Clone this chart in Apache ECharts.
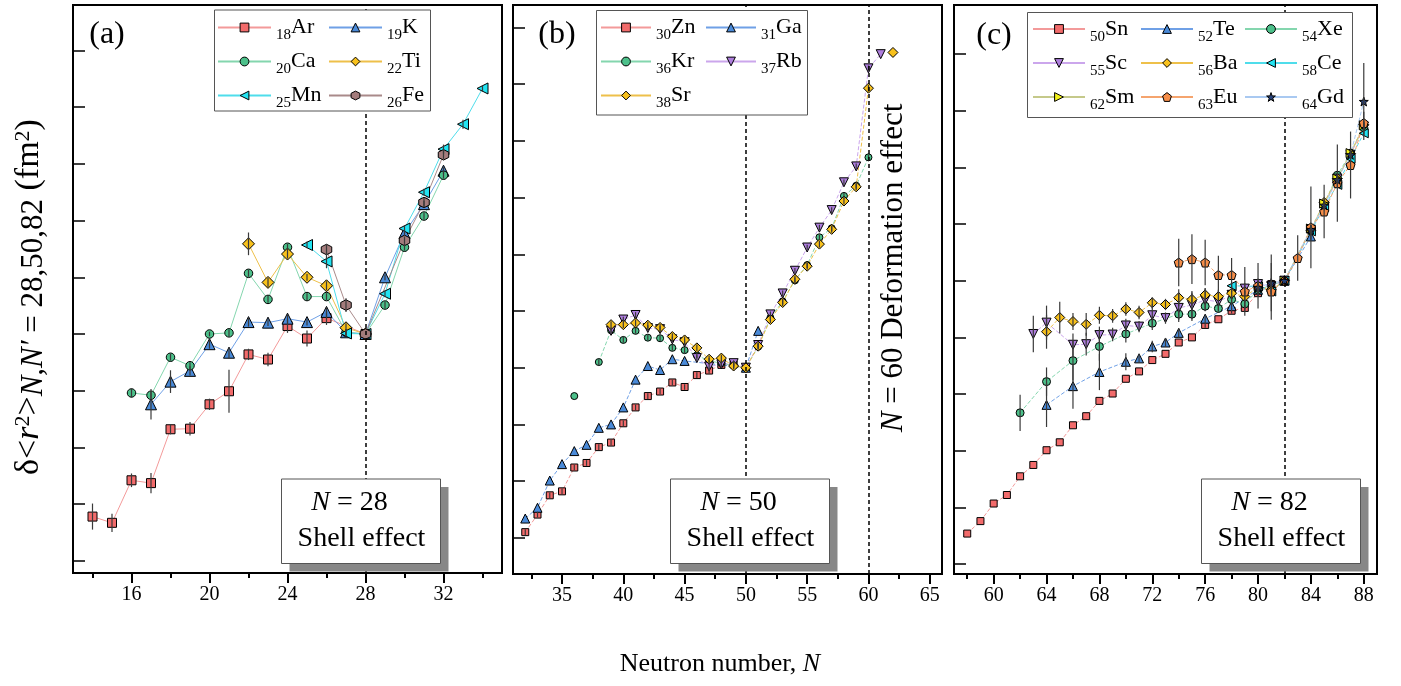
<!DOCTYPE html>
<html><head><meta charset="utf-8">
<script src="https://cdn.jsdelivr.net/npm/echarts@6/dist/echarts.min.js"></script>
<style>html,body{margin:0;padding:0;background:#fff}#c{width:1401px;height:686px}</style>
</head><body><div id="c"></div>
<script>
// ---- data: [N, delta<r^2> (fm^2, relative to N' = 28/50/82), error] ----
// panel (a)
const Ar = [[14,-0.322,0.023],[15,-0.333,0.016],[16,-0.258,0.012],[17,-0.263,0.018],[18,-0.168,0.009],[19,-0.167,0.012],[20,-0.124,0.01],[21,-0.101,0.038],[22,-0.036,0.01],[23,-0.045,0.012],[24,0.014,0.012],[25,-0.008,0.014],[26,0.028,0.012],[28,0,0]];
const K  = [[17,-0.124,0.027],[18,-0.084,0.02],[19,-0.065,0.008],[20,-0.018,0.008],[21,-0.033,0.01],[22,0.021,0.008],[23,0.020,0.006],[24,0.027,0.008],[25,0.021,0.006],[26,0.039,0.008],[27,0.003,0.006],[28,0,0],[29,0.100,0.005],[30,0.178,0.006],[31,0.229,0.006],[32,0.288,0.006]];
const Ca = [[16,-0.104,0.008],[17,-0.108,0.006],[18,-0.041,0.006],[19,-0.056,0.006],[20,0.000,0.004],[21,0.002,0.006],[22,0.107,0.006],[23,0.061,0.006],[24,0.153,0.006],[25,0.066,0.006],[26,0.066,0.006],[27,0.003,0.006],[28,0,0],[29,0.051,0.006],[30,0.153,0.006],[31,0.208,0.006],[32,0.280,0.006]];
const Ti = [[22,0.159,0.02],[23,0.091,0.008],[24,0.141,0.008],[25,0.100,0.006],[26,0.085,0.008],[27,0.011,0.008],[28,0,0]];
const Mn = [[25,0.157,0.006],[26,0.128,0.012],[27,0.001,0.006],[28,0,0],[29,0.071,0.006],[30,0.186,0.006],[31,0.250,0.006],[32,0.326,0.008],[33,0.370,0.008],[34,0.433,0.006]];
const Fe = [[26,0.149,0.008],[27,0.051,0.012],[28,0,0],[30,0.165,0.006],[31,0.232,0.008],[32,0.316,0.008]];
// panel (b)
const Zn = [[32,-0.290,0.005],[33,-0.259,0.005],[34,-0.225,0.005],[35,-0.218,0.005],[36,-0.176,0.005],[37,-0.168,0.005],[38,-0.140,0.005],[39,-0.132,0.005],[40,-0.098,0.005],[41,-0.070,0.005],[42,-0.050,0.005],[43,-0.042,0.005],[44,-0.026,0.005],[45,-0.034,0.005],[46,-0.013,0.005],[47,-0.005,0.005],[48,0.005,0.005],[49,0.006,0.005],[50,0,0]];
const Ga = [[32,-0.266,0],[33,-0.247,0],[34,-0.199,0],[35,-0.170,0],[36,-0.147,0],[37,-0.136,0],[38,-0.106,0],[39,-0.100,0],[40,-0.070,0],[41,-0.021,0],[42,0.003,0],[43,-0.004,0],[44,0.015,0],[45,0.012,0],[50,0,0],[51,0.065,0]];
const Kr = [[36,-0.050,0],[37,null,0],[38,0.010,0.005],[39,0.066,0.005],[40,0.049,0.005],[41,0.065,0.005],[42,0.053,0.005],[43,0.052,0.005],[44,0.035,0.005],[45,0.031,0.005],[46,0.022,0.005],[47,0.012,0.005],[48,0.008,0.005],[49,0.004,0.005],[50,0,0],[51,0.037,0.005],[52,0.088,0.005],[53,0.117,0.005],[54,0.154,0.005],[55,0.181,0.005],[56,0.230,0.005],[57,0.246,0.005],[58,0.303,0.005],[59,0.321,0.005],[60,0.371,0.005]];
const Rb = [[39,0.065,0.005],[40,0.085,0.005],[41,0.093,0.005],[42,0.070,0.005],[43,0.068,0.005],[44,0.050,0.005],[45,0.045,0.005],[46,0.017,0.005],[47,0.002,0.005],[48,0.006,0.005],[49,0.008,0.005],[50,0,0],[51,0.040,0.005],[52,0.094,0.005],[53,0.131,0.005],[54,0.171,0.005],[55,0.212,0.005],[56,0.247,0.005],[57,0.278,0.005],[58,0.327,0.005],[59,0.355,0.005],[60,0.528,0.005],[61,0.553,0]];
const Sr = [[39,0.076,0.006],[40,0.076,0.006],[41,0.079,0.006],[42,0.075,0.006],[43,0.071,0.006],[44,0.055,0.006],[45,0.049,0.006],[46,0.035,0.006],[47,0.015,0.006],[48,0.017,0.006],[49,0.003,0.006],[50,0,0],[51,0.038,0.006],[52,0.085,0.006],[53,0.115,0.006],[54,0.156,0.006],[55,0.179,0.006],[56,0.218,0.006],[57,0.244,0.006],[58,0.294,0.006],[59,0.319,0.006],[60,0.493,0.006],[61,null,0],[62,0.556,0]];
// panel (c)
const Sn = [[58,-0.446,0],[59,-0.424,0],[60,-0.393,0],[61,-0.378,0],[62,-0.345,0],[63,-0.325,0],[64,-0.299,0],[65,-0.285,0],[66,-0.255,0],[67,-0.239,0],[68,-0.212,0],[69,-0.199,0],[70,-0.173,0],[71,-0.160,0],[72,-0.140,0],[73,-0.129,0],[74,-0.109,0],[75,-0.100,0],[76,-0.078,0.005],[77,-0.068,0],[78,-0.053,0.005],[79,-0.048,0.005],[80,-0.022,0.006],[81,-0.006,0.006],[82,0,0]];
const Te = [[64,-0.219,0.039],[66,-0.186,0.04],[68,-0.161,0.032],[70,-0.143,0.015],[71,-0.137,0.008],[72,-0.116,0.01],[73,-0.109,0.008],[74,-0.092,0.008],[76,-0.067,0.006],[78,-0.045,0.006],[80,-0.016,0.006],[82,0,0],[84,0.078,0.006]];
const Xe = [[62,-0.233,0.032],[64,-0.178,0.025],[66,-0.141,0.035],[68,-0.116,0.025],[70,-0.094,0.015],[72,-0.075,0.012],[74,-0.059,0.01],[75,-0.059,0.012],[76,-0.045,0.008],[77,-0.049,0.006],[78,-0.033,0.008],[79,-0.041,0.008],[80,-0.016,0.006],[82,0,0],[84,0.088,0.006],[85,0.135,0.006],[86,0.186,0.006],[87,0.225,0.006],[88,0.270,0.006]];
const Sc = [[63,-0.094,0.032],[64,-0.074,0.03],[66,-0.113,0.02],[67,-0.112,0.02],[68,-0.096,0.015],[69,-0.095,0.012],[70,-0.079,0.012],[71,-0.081,0.01],[72,-0.061,0.02],[73,-0.066,0.01],[74,-0.048,0.025],[75,-0.043,0.025],[76,-0.034,0.02],[77,-0.037,0.015],[78,-0.025,0.015],[79,-0.014,0.01],[80,-0.006,0.01],[81,-0.010,0.01],[82,0,0],[84,0.090,0.006],[85,0.132,0.006],[86,0.180,0.006],[87,0.222,0.006],[88,0.272,0.006]];
const Ba = [[64,-0.090,0.03],[65,-0.065,0.028],[66,-0.072,0.015],[67,-0.077,0.02],[68,-0.061,0.015],[69,-0.062,0.012],[70,-0.050,0.012],[71,-0.056,0.012],[72,-0.039,0.01],[73,-0.042,0.01],[74,-0.030,0.015],[75,-0.033,0.012],[76,-0.025,0.012],[77,-0.028,0.012],[78,-0.022,0.01],[79,-0.028,0.01],[80,-0.012,0.008],[81,-0.016,0.008],[82,0,0],[84,0.089,0.006],[85,0.138,0.006],[86,0.180,0.006],[87,0.224,0.006],[88,0.275,0.006]];
const Ce = [[78,-0.009,0.006],[80,-0.010,0.006],[81,-0.019,0.006],[82,0,0],[84,0.087,0.006],[85,0.130,0.006],[86,0.169,0.006],[87,0.215,0.006],[88,0.260,0.006]];
const Sm = [[82,0,0],[84,0.092,0.006],[85,0.136,0.006],[86,0.180,0.006],[87,0.225,0.006],[88,0.274,0.006]];
const Eu = [[74,0.032,0.042],[75,0.038,0.044],[76,0.032,0.04],[77,0.010,0.034],[78,0.010,0.03],[79,-0.019,0.043],[80,-0.009,0.04],[81,-0.019,0.05],[82,0,0],[83,0.040,0.04],[84,0.094,0.072],[85,0.122,0.047],[86,0.172,0.068],[87,0.204,0.059],[88,0.278,0.02]];
const Gd = [[80,-0.012,0.01],[81,-0.004,0.05],[82,0,0],[84,0.090,0.006],[85,0.133,0.006],[86,0.178,0.006],[87,0.222,0.006],[88,0.316,0.068]];

// axis ticks / labels
const xMajor = [[16,20,24,28,32],[35,40,45,50,55,60,65],[60,64,68,72,76,80,84,88]];
const xMinor = [[14,18,22,26,30,34],[32.5,37.5,42.5,47.5,52.5,57.5,62.5],[58,62,66,70,74,78,82,86]];
const yTicks = [[-0.4,-0.3,-0.2,-0.1,0,0.1,0.2,0.3,0.4,0.5],[-0.3,-0.2,-0.1,0,0.1,0.2,0.3,0.4,0.5,0.6],[-0.5,-0.4,-0.3,-0.2,-0.1,0,0.1,0.2,0.3,0.4]];
const shellN = [28,50,82];
const Zsub = {Ar:18,K:19,Ca:20,Ti:22,Mn:25,Fe:26,Zn:30,Ga:31,Kr:36,Rb:37,Sr:38,Sn:50,Te:52,Xe:54,Sc:55,Ba:56,Ce:58,Sm:62,Eu:63,Gd:64};

// ---- styling ----
const FONT = "'Liberation Serif','Times New Roman',serif";
const HEX = 'path://M0,-10L8.66,-5L8.66,5L0,10L-8.66,5L-8.66,-5Z';
const PENT = 'path://M0,-10L9.51,-3.09L5.88,8.09L-5.88,8.09L-9.51,-3.09Z';
const STAR = 'path://M0,-10L2.35,-3.24L9.51,-3.09L3.8,1.24L5.88,8.09L0,4L-5.88,8.09L-3.8,1.24L-9.51,-3.09L-2.35,-3.24Z';
const C = {
  red:['#F26B6B','#F39A9A'], blue:['#4A8AD8','#6FA0E6'], green:['#4CC08A','#84D6AE'],
  yel:['#F8C11C','#EEC04A'], cyan:['#22E4F2','#4FDDEB'], brown:['#A47C7C','#A98A8A'],
  pur:['#AE7EDD','#CBA6EC'], sm:['#F4F21A','#C5C98A'], eu:['#F68D48','#F5A46E'], gd:['#27427A','#A9C9F1']
};
const specs = [
  {name:'Ar',d:Ar,p:0,c:C.red,s:'rect',z:9},
  {name:'K',d:K,p:0,c:C.blue,s:'triangle',z:11},
  {name:'Ca',d:Ca,p:0,c:C.green,s:'circle',z:8.5},
  {name:'Ti',d:Ti,p:0,c:C.yel,s:'diamond',z:12},
  {name:'Mn',d:Mn,p:0,c:C.cyan,s:'triangle',z:11,r:90},
  {name:'Fe',d:Fe,p:0,c:C.brown,s:HEX,z:10.5},
  {name:'Zn',d:Zn,p:1,c:C.red,s:'rect',z:7},
  {name:'Ga',d:Ga,p:1,c:C.blue,s:'triangle',z:9},
  {name:'Kr',d:Kr,p:1,c:C.green,s:'circle',z:7},
  {name:'Rb',d:Rb,p:1,c:C.pur,s:'triangle',z:9,r:180},
  {name:'Sr',d:Sr,p:1,c:C.yel,s:'diamond',z:10},
  {name:'Sn',d:Sn,p:2,c:C.red,s:'rect',z:7},
  {name:'Te',d:Te,p:2,c:C.blue,s:'triangle',z:9},
  {name:'Xe',d:Xe,p:2,c:C.green,s:'circle',z:8},
  {name:'Sc',d:Sc,p:2,c:C.pur,s:'triangle',z:9,r:180},
  {name:'Ba',d:Ba,p:2,c:C.yel,s:'diamond',z:10},
  {name:'Ce',d:Ce,p:2,c:C.cyan,s:'triangle',z:9,r:90},
  {name:'Sm',d:Sm,p:2,c:C.sm,s:'triangle',z:9,r:-90},
  {name:'Eu',d:Eu,p:2,c:C.eu,s:PENT,z:9},
  {name:'Gd',d:Gd,p:2,c:C.gd,s:STAR,z:9}
];
const lineType = ['solid',[4,2],[4,2]];

const grids = [{left:73,top:5,width:429,height:568},{left:513,top:5,width:429,height:569},{left:954,top:5,width:423,height:569}];
const xr = [[13,35],[31,66],[57,89]];
const yr = [[-0.4215,0.5802],[-0.3638,0.6397],[-0.5173,0.4862]];

const xAxis = [], yAxis = [];
for (let p=0;p<3;p++){
  xAxis.push({gridIndex:p,type:'value',min:xr[p][0],max:xr[p][1],position:'bottom',
    axisLine:{show:true,onZero:false,lineStyle:{color:'#000',width:2}},
    axisTick:{show:true,inside:false,length:10,customValues:xMajor[p],lineStyle:{color:'#000',width:2}},
    axisLabel:{show:true,customValues:xMajor[p],fontFamily:FONT,fontSize:20,color:'#000',margin:12},
    splitLine:{show:false}});
  xAxis.push({gridIndex:p,type:'value',min:xr[p][0],max:xr[p][1],position:'bottom',
    axisLine:{show:false,onZero:false},
    axisTick:{show:true,inside:false,length:5,customValues:xMinor[p],lineStyle:{color:'#000',width:2}},
    axisLabel:{show:false},splitLine:{show:false}});
  yAxis.push({gridIndex:p,type:'value',min:yr[p][0],max:yr[p][1],
    axisLine:{show:false},
    axisTick:{show:true,inside:true,length:12,customValues:yTicks[p],lineStyle:{color:'#000',width:1.5}},
    axisLabel:{show:false},splitLine:{show:false}});
}

const series = [];
const errs = [[],[],[]];
specs.forEach((sp,i)=>{
  const data = sp.d.map(a => [a[0], a[1]===null ? '-' : a[1]]);
  sp.d.forEach(a => { if (a[1]!==null && a[2]>0) errs[sp.p].push([a[0], a[1]-a[2], a[1]+a[2]]); });
  series.push({
    name:sp.name,type:'line',xAxisIndex:2*sp.p,yAxisIndex:sp.p,data,
    symbol:sp.s,symbolSize:sp.z,symbolRotate:sp.r||0,showSymbol:true,showAllSymbol:true,
    connectNulls:false,
    lineStyle:{color:sp.c[1],width:1,type:lineType[sp.p]},
    itemStyle:{color:sp.c[0],borderColor:'#000',borderWidth:1},
    emphasis:{disabled:true},z:3,animation:false
  });
});
// dashed reference lines
const dash = [[0,28],[1,50],[1,60],[2,82]];
dash.forEach(([p,x])=>{
  series.push({type:'line',xAxisIndex:2*p,yAxisIndex:p,data:[],silent:true,z:1,
    markLine:{silent:true,symbol:'none',label:{show:false},animation:false,
      lineStyle:{type:[4,3],color:'#000',width:1.5},data:[{xAxis:x}]}});
});
// error bars
for (let p=0;p<3;p++){
  series.push({type:'custom',xAxisIndex:2*p,yAxisIndex:p,data:errs[p],silent:true,z:4,animation:false,
    encode:{x:0,y:[1,2]},
    renderItem:(params,api)=>{
      const a = api.coord([api.value(0),api.value(1)]);
      const b = api.coord([api.value(0),api.value(2)]);
      return {type:'line',shape:{x1:a[0],y1:a[1],x2:b[0],y2:b[1]},style:{stroke:'#3a3a3a',lineWidth:1.2}};
    }});
}

// legends (one per column); atomic-number subscripts drawn as text next to them
const ROW = 34;
const legCols = [
  {names:['Ar','Ca','Mn'],left:217,cy:27.5,w:53},{names:['K','Ti','Fe'],left:328,cy:27.5,w:53},
  {names:['Zn','Kr','Sr'],left:600,cy:27.5,w:50},{names:['Ga','Rb'],left:705,cy:27.5,w:50},
  {names:['Sn','Sc','Sm'],left:1032,cy:29,w:52},{names:['Te','Ba','Eu'],left:1140,cy:29,w:52},{names:['Xe','Ce','Gd'],left:1244,cy:29,w:52}
];
const legend = legCols.map(c=>({data:c.names,orient:'vertical',left:c.left,top:c.cy-ROW/2,itemWidth:c.w,itemHeight:11,itemGap:0,padding:0,
  selectedMode:false,z:60,
  textStyle:{fontFamily:FONT,fontSize:22,color:'#000',lineHeight:ROW,padding:[0,0,0,15]},
  lineStyle:{type:'solid'},
  itemStyle:{borderColor:'#000',borderWidth:1}}));

// graphics
const g = [];
legCols.forEach(c=>c.names.forEach((n,k)=>g.push({type:'text',z:65,x:c.left+c.w+6,y:c.cy+k*ROW+8,
  style:{text:String(Zsub[n]),textAlign:'left',textVerticalAlign:'middle',font:`15px ${FONT}`,fill:'#000'}})));
const legBoxes = [[214.5,10,216,101],[596.5,10.5,211,104.5],[1027.5,12.5,325,105]];
legBoxes.forEach(b=>g.push({type:'rect',z:55,shape:{x:b[0],y:b[1],width:b[2],height:b[3]},style:{fill:'#fff',stroke:'#555',lineWidth:1}}));
const shellBoxes = [281.5,670.5,1201.5];
shellBoxes.forEach((x,i)=>{
  g.push({type:'rect',z:50,shape:{x:x+8,y:487,width:159,height:84.5},style:{fill:'#878787'}});
  g.push({type:'rect',z:51,shape:{x:x,y:479,width:159,height:84.5},style:{fill:'#fff',stroke:'#555',lineWidth:1}});
  g.push({type:'text',z:52,x:x+68,y:503,style:{text:`{i|N} = ${shellN[i]}`,textAlign:'center',textVerticalAlign:'middle',
    font:`28px ${FONT}`,fill:'#000',rich:{i:{fontFamily:FONT,fontSize:28,fontStyle:'italic'}}}});
  g.push({type:'text',z:52,x:x+80,y:539,style:{text:'Shell effect',textAlign:'center',textVerticalAlign:'middle',font:`28px ${FONT}`,fill:'#000'}});
});
[['(a)',107,35],['(b)',557,35],['(c)',994,36]].forEach(t=>g.push({type:'text',z:52,x:t[1],y:t[2],
  style:{text:t[0],textAlign:'center',textVerticalAlign:'middle',font:`32px ${FONT}`,fill:'#000'}}));
g.push({type:'text',z:52,x:894,y:268,rotation:Math.PI/2,style:{text:'{i|N} = 60 Deformation effect',
  textAlign:'center',textVerticalAlign:'middle',font:`31px ${FONT}`,fill:'#000',rich:{i:{fontFamily:FONT,fontSize:31,fontStyle:'italic'}}}});
g.push({type:'text',z:52,x:720,y:664,style:{text:'Neutron number, {i|N}',textAlign:'center',textVerticalAlign:'middle',
  font:`26px ${FONT}`,fill:'#000',rich:{i:{fontFamily:FONT,fontSize:26,fontStyle:'italic'}}}});
const yr2 = {
  m:{fontFamily:FONT,fontSize:34,lineHeight:38,verticalAlign:'top'},
  mi:{fontFamily:FONT,fontSize:34,lineHeight:38,verticalAlign:'top',fontStyle:'italic'},
  sup:{fontFamily:FONT,fontSize:22,lineHeight:22,verticalAlign:'top'},
  s:{fontFamily:FONT,fontSize:31,lineHeight:38,verticalAlign:'top',padding:[6,0,0,0]},
  si:{fontFamily:FONT,fontSize:31,lineHeight:38,verticalAlign:'top',padding:[6,0,0,0],fontStyle:'italic'}
};
g.push({type:'text',z:52,x:31,y:297,rotation:Math.PI/2,style:{
  text:'{m|δ<}{mi|r}{sup|2}{m|>}{si|N,N′}{s| = 28,50,82}{m| (fm}{sup|2}{m|)}',
  textAlign:'center',textVerticalAlign:'middle',fill:'#000',rich:yr2}});

const chart = echarts.init(document.getElementById('c'));
chart.setOption({
  animation:false,
  grid:grids.map(gr=>Object.assign({show:true,borderColor:'#000',borderWidth:2,backgroundColor:'transparent'},gr)),
  xAxis, yAxis, legend, series, graphic:g
});
</script></body></html>
